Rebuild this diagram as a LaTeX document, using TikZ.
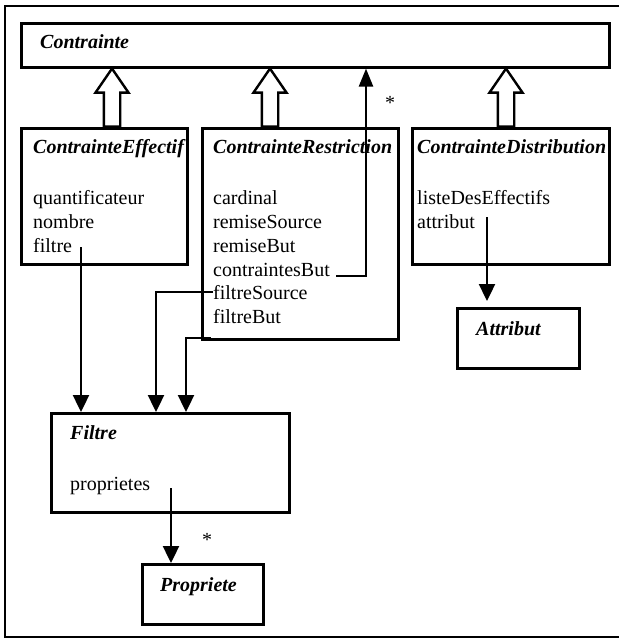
\documentclass[tikz,border=0pt]{standalone}
\usepackage{fontspec}
\setmainfont{Liberation Serif}
\usetikzlibrary{arrows.meta}
\begin{document}
\begin{tikzpicture}[x=1pt,y=-1pt,
  cls/.style={draw, line width=2.6pt, inner sep=0pt, anchor=north west},
  ttl/.style={anchor=base west, inner sep=0pt, font=\fontsize{20}{24}\selectfont\bfseries\itshape},
  attr/.style={anchor=base west, inner sep=0pt, font=\fontsize{20}{24}\selectfont},
  assoc/.style={line width=2.4pt, -{Triangle[length=17pt,width=16pt]}},
  gen/.style={draw, line width=2.4pt, fill=white, line join=miter},
  mult/.style={anchor=base, inner sep=0pt, font=\fontsize{20}{24}\selectfont}]
\useasboundingbox (0,0) rectangle (619,639);
% outer frame (open on the right)
\draw[line width=1.8pt] (619,6) -- (5,6) -- (5,637) -- (619,637);

% classes
\node[cls, minimum width=588, minimum height=44] (contrainte) at (20,22) {};
\node[cls, minimum width=166, minimum height=136] (eff) at (20,127) {};
\node[cls, minimum width=196, minimum height=211] (restr) at (201,127) {};
\node[cls, minimum width=197, minimum height=136] (dist) at (411,127) {};
\node[cls, minimum width=122, minimum height=60] (attribut) at (456,307) {};
\node[cls, minimum width=238, minimum height=99] (filtre) at (50,412) {};
\node[cls, minimum width=121, minimum height=60] (propriete) at (141,563) {};

% class names and attributes
\node[ttl] (tContrainte) at (40,49) {Contrainte};

\node[ttl] (tEff) at (33,154) {ContrainteEffectif};
\node[attr] (aQuant) at (33,204) {quantificateur};
\node[attr] (aNombre) at (33,228) {nombre};
\node[attr] (aFiltre) at (33,252) {filtre};

\node[ttl] (tRestr) at (213,154) {ContrainteRestriction};
\node[attr] (aCard) at (213,204) {cardinal};
\node[attr] (aRemS) at (213,228) {remiseSource};
\node[attr] (aRemB) at (213,252) {remiseBut};
\node[attr] (aContB) at (213,276) {contraintesBut};
\node[attr] (aFiltS) at (213,299) {filtreSource};
\node[attr] (aFiltB) at (213,323) {filtreBut};

\node[ttl] (tDist) at (417,154) {ContrainteDistribution};
\node[attr] (aListe) at (417,204) {listeDesEffectifs};
\node[attr] (aAttr) at (417,228) {attribut};

\node[ttl] (tAttribut) at (476,335) {Attribut};
\node[ttl] (tFiltre) at (70,439) {Filtre};
\node[attr] (aProp) at (70,490) {proprietes};
\node[ttl] (tPropriete) at (160,591) {Propriete};

% generalisation arrows (hollow block arrows)
\foreach \x in {112,270,506}
  \draw[gen] (\x,0 |- contrainte.south) -- ++(16.5,24) -- ++(-8.3,0) -- ++(0,34)
    -- ++(-16.4,0) -- ++(0,-34) -- ++(-8.3,0) -- cycle;

% associations
\coordinate (pFiltre) at (81,247);
\draw[assoc] (pFiltre) -- (pFiltre |- filtre.north);

\coordinate (pFS) at (213,292);
\coordinate (kFS) at (156,292);
\draw[assoc] (pFS) -- (kFS) -- (kFS |- filtre.north);

\coordinate (pFB) at (211,338);
\coordinate (kFB) at (186,338);
\draw[assoc] (pFB) -- (kFB) -- (kFB |- filtre.north);

\coordinate (pCB) at (336,276);
\coordinate (kCB) at (366,276);
\draw[assoc, -{Triangle[length=18pt,width=14pt]}] (pCB) -- (kCB) -- (kCB |- contrainte.south);
\node[mult] (mCB) at (390,110) {*};

\coordinate (pAt) at (487,217);
\draw[assoc, shorten >=6pt] (pAt) -- (pAt |- attribut.north);

\coordinate (pPr) at (171,488);
\draw[assoc] (pPr) -- (pPr |- propriete.north);
\node[mult] (mPr) at (207,546) {*};
\end{tikzpicture}
\end{document}
